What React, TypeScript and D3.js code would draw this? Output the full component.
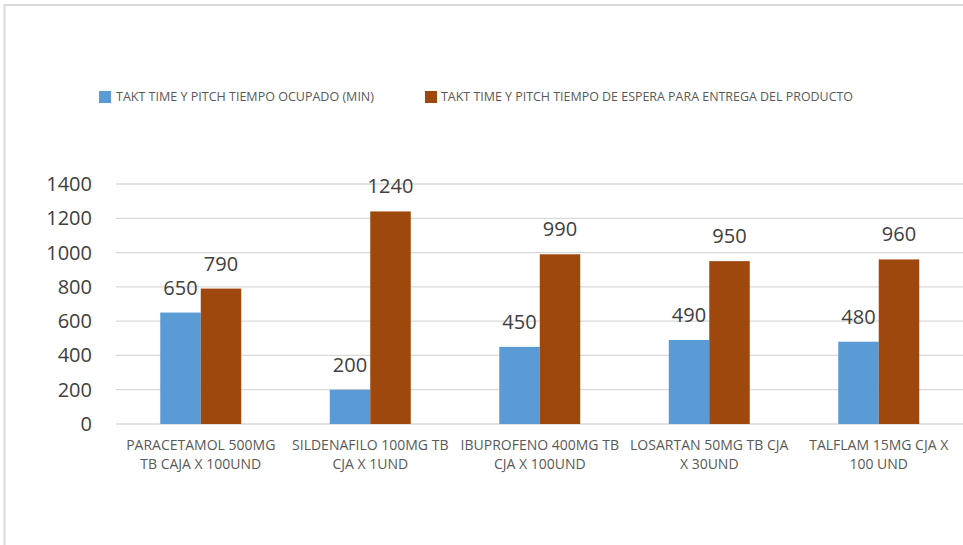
import React from "react";
import * as d3 from "d3";

const categories = [
  ["PARACETAMOL 500MG", "TB CAJA X 100UND"],
  ["SILDENAFILO 100MG TB", "CJA X 1UND"],
  ["IBUPROFENO 400MG TB", "CJA X 100UND"],
  ["LOSARTAN 50MG TB CJA", "X 30UND"],
  ["TALFLAM 15MG CJA X", "100 UND"],
];
const seriesNames = [
  "TAKT TIME Y PITCH TIEMPO OCUPADO (MIN)",
  "TAKT TIME Y PITCH TIEMPO DE ESPERA PARA ENTREGA DEL PRODUCTO",
];
const ocupado = [650, 200, 450, 490, 480];
const espera = [790, 1240, 990, 950, 960];
const yTicks = [0, 200, 400, 600, 800, 1000, 1200, 1400];
const colors = ["#5B9BD5", "#9E480E"];

export default function App() {
  const W = 963, H = 545;
  const keys = categories.map((c) => c.join(" "));
  const x0 = d3.scaleBand<string>().domain(keys).range([116, 963.5]).padding(0);
  const x1 = d3.scaleBand<string>().domain(["a", "b"]).range([0, x0.bandwidth()]).paddingInner(0).paddingOuter(1.093);
  const y = d3.scaleLinear().domain([0, 1400]).range([424, 184]);
  const series = [ocupado, espera];
  const font = "'Open Sans', sans-serif";
  return (
    <svg width={W} height={H} style={{ position: "absolute", left: 0, top: 0, background: "#fff" }} fontFamily={font}>
      <rect x={0} y={0} width={W} height={H} fill="#fff" />
      <rect x={4.5} y={5} width={W + 20} height={H + 20} fill="none" stroke="#D9D9D9" strokeWidth={2} />
      {yTicks.map((t) => (
        <g key={t}>
          <line x1={116} x2={963} y1={y(t)} y2={y(t)} stroke="#D9D9D9" strokeWidth={1.3} />
          <text x={92} y={y(t)} dy="0.35em" textAnchor="end" fontSize={20} fill="#404040">{t}</text>
        </g>
      ))}
      {series.map((vals, si) =>
        vals.map((v, i) => {
          const bx = (x0(keys[i]) as number) + (x1(si === 0 ? "a" : "b") as number);
          const bw = x1.bandwidth();
          return (
            <g key={si + "-" + i}>
              <rect x={bx} y={y(v)} width={bw} height={y(0) - y(v)} fill={colors[si]} />
              <text x={bx + bw / 2} y={y(v) - 18} textAnchor="middle" fontSize={20} fill="#404040">{v}</text>
            </g>
          );
        })
      )}
      {categories.map((c, i) => {
        const cx = (x0(keys[i]) as number) + x0.bandwidth() / 2;
        return (
          <text key={i} textAnchor="middle" fontSize={14} fill="#595959">
            <tspan x={cx} y={450}>{c[0]}</tspan>
            <tspan x={cx} y={469}>{c[1]}</tspan>
          </text>
        );
      })}
      <rect x={99} y={91} width={12} height={12} fill={colors[0]} />
      <text x={116} y={100.5} fontSize={12.3} fill="#595959" textLength={258} lengthAdjust="spacingAndGlyphs">{seriesNames[0]}</text>
      <rect x={425} y={91} width={12} height={12} fill={colors[1]} />
      <text x={441} y={100.5} fontSize={12.3} fill="#595959" textLength={412} lengthAdjust="spacingAndGlyphs">{seriesNames[1]}</text>
    </svg>
  );
}
